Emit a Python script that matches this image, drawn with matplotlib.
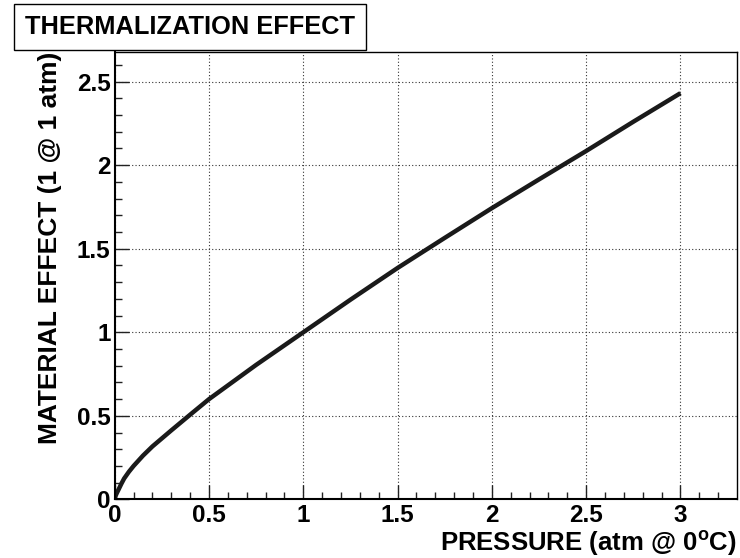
import matplotlib
matplotlib.use("Agg")
import matplotlib.pyplot as plt

# values
pressure = [0.0, 0.005, 0.01, 0.02, 0.035, 0.05, 0.075, 0.1, 0.15, 0.2, 0.3, 0.4,
            0.5, 0.75, 1.0, 1.25, 1.5, 1.75, 2.0, 2.25, 2.5, 2.75, 3.0]
effect = [0.0, 0.022, 0.035, 0.058, 0.093, 0.125, 0.165, 0.2, 0.262, 0.317, 0.413, 0.507,
          0.6, 0.805, 1.0, 1.195, 1.385, 1.565, 1.743, 1.915, 2.085, 2.26, 2.431]

xticks = [0, 0.5, 1, 1.5, 2, 2.5, 3]
xticklabels = ['0', '0.5', '1', '1.5', '2', '2.5', '3']
yticks = [0, 0.5, 1, 1.5, 2, 2.5]
yticklabels = ['0', '0.5', '1', '1.5', '2', '2.5']

plt.rcParams['font.family'] = ['Liberation Sans', 'DejaVu Sans']
plt.rcParams['font.weight'] = 'bold'

fig = plt.figure(figsize=(7.4, 5.58), dpi=100)
ax = fig.add_axes([0.155, 0.105, 0.841, 0.802])

ax.plot(pressure, effect, color='#1a1a1a', lw=3.2, solid_capstyle='butt')

ax.set_xlim(0, 3.3)
ax.set_ylim(0, 2.678)
ax.set_xticks(xticks)
ax.set_xticklabels(xticklabels)
ax.set_yticks(yticks)
ax.set_yticklabels(yticklabels)
ax.set_xticks([i * 0.1 for i in range(33)], minor=True)
ax.set_yticks([i * 0.1 for i in range(27)], minor=True)

ax.grid(True, which='major', linestyle=(0, (1, 2)), color='#333333', lw=0.8)
ax.tick_params(which='both', direction='in', top=False, right=False,
               labelsize=17.5, width=1, color='#222222')
ax.tick_params(which='major', length=10, pad=3)
ax.tick_params(which='minor', length=5)
for s in ax.spines.values():
    s.set_linewidth(1)
ax.spines['left'].set_linewidth(1.5)
ax.spines['bottom'].set_linewidth(1.5)

ax.set_xlabel('PRESSURE (atm @ 0$^{\\mathregular{o}}$C)', fontsize=18.5,
              fontweight='bold', loc='right', labelpad=1)

fig.text(50 / 740, 1 - 52 / 558, 'MATERIAL EFFECT (1 @ 1 atm)', fontsize=19,
         fontweight='bold', rotation=90, ha='center', va='top')

fig.text(0.034, 1 - 27 / 558, 'THERMALIZATION EFFECT', fontsize=18.3, fontweight='bold',
         va='center', ha='left',
         bbox=dict(boxstyle='square,pad=0.42', fc='white', ec='black', lw=1))

fig.savefig('out.png', dpi=100)
